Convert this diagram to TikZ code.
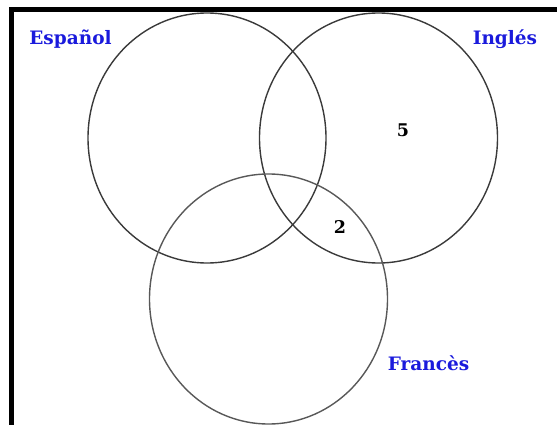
\documentclass[tikz,border=0pt]{standalone}
\usepackage{fontspec}
\usepackage{tikz}
\usetikzlibrary{shapes.geometric}
\newfontfamily\labelfont{DejaVu Serif}
\definecolor{SetBlue}{HTML}{1A1ADC}
\definecolor{Rim}{HTML}{3A3A3A}
\tikzset{
 set/.style={ellipse,draw=Rim,line width=1.4pt,minimum width=238pt,minimum height=250pt,inner sep=0pt},
 lbl/.style={anchor=base,font=\labelfont\bfseries\fontsize{18.5}{20}\selectfont,text=SetBlue,inner sep=0pt},
 num/.style={anchor=base,font=\labelfont\bfseries\fontsize{17.5}{19}\selectfont,inner sep=0pt},
 frame/.style={line width=5pt,draw=black}
}
\begin{document}
\begin{tikzpicture}[x=1pt,y=-1pt]
\useasboundingbox (0,0) rectangle (557,425);
\coordinate (fl) at (11.5,425);
\coordinate (fc) at (11.5,10);
\coordinate (fr) at (557,10);
\draw[frame] (fl)--(fc)--(fr);
% the three sets
\node[set] (esp) at (207,138) {};
\node[set] (ing) at (378.5,138) {};
\node[set,draw=Rim!85] (fra) at (268.5,299) {};
% names
\node[lbl] (lesp) at (70.5,45) {Español};
\node[lbl] (ling) at (505,45) {Inglés};
\node[lbl] (lfra) at (428.5,370) {Francès};
% counts
\node[num] (n5) at (403,137) {5};
\node[num] (n2) at (340,233) {2};
\end{tikzpicture}
\end{document}
